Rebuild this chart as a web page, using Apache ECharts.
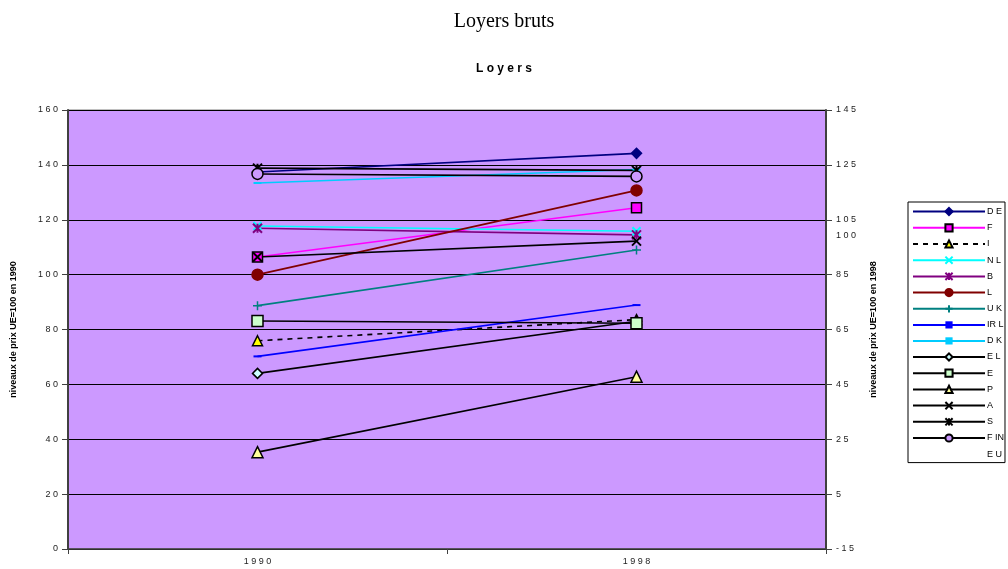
<!DOCTYPE html>
<html>
<head>
<meta charset="utf-8">
<title>Loyers bruts</title>
<script src="https://cdn.jsdelivr.net/npm/echarts@6/dist/echarts.min.js"></script>
<style>
  html, body { margin: 0; padding: 0; background: #ffffff; }
  #chart { width: 1008px; height: 569px; }
</style>
</head>
<body>
<div id="chart"></div>
<script>
// Years on the category axis
const years = ['1990', '1998'];

// Rent price levels (EU = 100 in 1990), one array per country
const de  = [137.4, 144.2];
const fr  = [106.4, 124.4];
const it  = [75.9, 83.6];
const nl  = [117.7, 115.8];
const be  = [116.9, 114.5];
const lu  = [100.0, 130.7];
const uk  = [88.7, 109.0];
const irl = [70.2, 88.9];
const dk  = [133.4, 138.3];
const el  = [64.0, 83.0];
const es  = [83.1, 82.3];
const pt  = [35.3, 62.8];
const at  = [106.4, 112.2];
const se  = [138.8, 138.0];
const fin = [136.7, 135.8];

// Legend labels as printed
const names = ['D E', 'F', 'I', 'N L', 'B', 'L', 'U K', 'IR L', 'D K', 'E L', 'E', 'P', 'A', 'S', 'F IN', 'E U'];

// Scale ticks
const leftMin = 0, leftMax = 160, leftStep = 20;
const rightMin = -15, rightMax = 145, rightStep = 20;
const rightMark = 100;

const X_SYM = 'path://M0,0L10,10M10,0L0,10';
const STAR_SYM = 'path://M0,0L10,10M10,0L0,10M5,0L5,10';
const PLUS_SYM = 'path://M5,0L5,10M0,5L10,5';

const spaced = v => String(v).split('').join(' ');

function mk(name, data, color, symbol, opts) {
  opts = opts || {};
  return {
    name: name,
    type: 'line',
    data: data,
    symbol: symbol,
    symbolSize: opts.size || 9,
    lineStyle: { color: color, width: 1.6, type: opts.dash ? [5, 5] : 'solid' },
    itemStyle: {
      color: opts.fill || color,
      borderColor: opts.border || color,
      borderWidth: opts.bw != null ? opts.bw : 1.5
    },
    emphasis: { disabled: true },
    animation: false,
    z: 3
  };
}

const series = [
  mk(names[0], de, '#000080', 'diamond', { size: 10, fill: '#000080', border: '#000080' }),
  mk(names[1], fr, '#FF00FF', 'rect', { size: 10, fill: '#FF00FF', border: '#000000' }),
  mk(names[2], it, '#000000', 'triangle', { size: 10, dash: true, fill: '#FFFF00', border: '#000000' }),
  mk(names[3], nl, '#00FFFF', X_SYM, { size: 8, bw: 2 }),
  mk(names[4], be, '#800080', STAR_SYM, { size: 9, bw: 2 }),
  mk(names[5], lu, '#800000', 'circle', { size: 11 }),
  mk(names[6], uk, '#008080', PLUS_SYM, { size: 9, bw: 1.5 }),
  mk(names[7], irl, '#0000FF', 'rect', { size: [8, 2], bw: 0 }),
  mk(names[8], dk, '#00CCFF', 'rect', { size: [8, 2], bw: 0 }),
  mk(names[9], el, '#000000', 'diamond', { size: 10, fill: '#CCFFFF', border: '#000000' }),
  mk(names[10], es, '#000000', 'rect', { size: 11, fill: '#CCFFCC', border: '#000000' }),
  mk(names[11], pt, '#000000', 'triangle', { size: 11, fill: '#FFFF99', border: '#000000' }),
  mk(names[12], at, '#000000', X_SYM, { size: 9, bw: 2 }),
  mk(names[13], se, '#000000', STAR_SYM, { size: 9, bw: 2 }),
  mk(names[14], fin, '#000000', 'circle', { size: 11, fill: '#CC99FF', border: '#000000' }),
  {
    name: names[15], type: 'line', data: [], symbol: 'none',
    lineStyle: { opacity: 0 }, itemStyle: { opacity: 0 }
  }
];

const chart = echarts.init(document.getElementById('chart'), null, { renderer: 'canvas' });

const tickFont = { fontFamily: 'Liberation Sans, Arial, sans-serif', fontSize: 9, color: '#222' };
const nameFont = { fontFamily: 'Liberation Sans, Arial, sans-serif', fontSize: 9, fontWeight: 'bold', color: '#000' };

chart.setOption({
  animation: false,
  backgroundColor: '#ffffff',
  title: [
    {
      text: 'Loyers bruts',
      left: 'center', top: 7,
      textStyle: { fontFamily: 'Liberation Serif, Times New Roman, serif', fontSize: 20, fontWeight: 'normal', color: '#000' }
    },
    {
      text: 'L o y e r s',
      left: 'center', top: 58,
      textStyle: { fontFamily: 'Liberation Sans, Arial, sans-serif', fontSize: 12, fontWeight: 'bold', color: '#000' }
    }
  ],
  grid: {
    left: 68, right: 182, top: 110, bottom: 20,
    show: true, backgroundColor: '#CC99FF', borderColor: '#808080', borderWidth: 1,
    containLabel: false
  },
  legend: {
    orient: 'vertical',
    left: 908, top: 202,
    backgroundColor: '#ffffff',
    borderColor: '#000000', borderWidth: 1,
    padding: [5, 1, 4, 4],
    itemWidth: 72, itemHeight: 9, itemGap: 7,
    selectedMode: false,
    textStyle: { fontFamily: 'Liberation Sans, Arial, sans-serif', fontSize: 9, color: '#000', padding: [0, 0, 0, -3] },
    data: names
  },
  xAxis: {
    type: 'category',
    data: years,
    boundaryGap: true,
    axisLine: { lineStyle: { color: '#404040', width: 1.5 } },
    axisTick: { show: true, length: 5, alignWithLabel: false, lineStyle: { color: '#404040' } },
    axisLabel: Object.assign({ margin: 8, formatter: spaced }, tickFont),
    splitLine: { show: false }
  },
  yAxis: [
    {
      type: 'value', position: 'left',
      min: leftMin, max: leftMax, interval: leftStep,
      name: 'niveaux de prix UE=100 en 1990',
      nameLocation: 'middle', nameGap: 50, nameRotate: 90,
      nameTextStyle: nameFont,
      axisLine: { show: true, lineStyle: { color: '#404040', width: 2 } },
      axisTick: { show: true, length: 6, lineStyle: { color: '#404040' } },
      axisLabel: Object.assign({ margin: 10, formatter: spaced }, tickFont),
      splitLine: { show: true, lineStyle: { color: '#000000', width: 1 } }
    },
    {
      type: 'value', position: 'right',
      min: rightMin, max: rightMax, interval: rightStep,
      name: 'niveaux de prix UE=100 en 1998',
      nameLocation: 'middle', nameGap: 43, nameRotate: 90,
      nameTextStyle: nameFont,
      axisLine: { show: true, lineStyle: { color: '#404040', width: 2 } },
      axisTick: { show: true, length: 6, lineStyle: { color: '#404040' } },
      axisLabel: Object.assign({ margin: 10, formatter: spaced }, tickFont),
      splitLine: { show: false }
    },
    {
      // extra right-side reference label at 100
      type: 'value', position: 'right',
      min: rightMin, max: rightMax, interval: rightMark - rightMin,
      axisLine: { show: false },
      axisTick: { show: false },
      axisLabel: Object.assign({
        margin: 10,
        formatter: v => (v === rightMark ? spaced(v) : '')
      }, tickFont, { verticalAlign: 'top', padding: [-2, 0, 0, 0] }),
      splitLine: { show: false }
    }
  ],
  series: series
});
</script>
</body>
</html>
